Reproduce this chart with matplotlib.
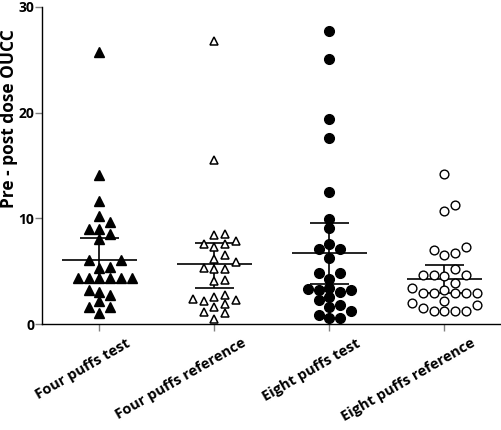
import numpy as np
import matplotlib
matplotlib.use('Agg')
from matplotlib import pyplot as plt
from matplotlib.transforms import ScaledTranslation

plt.rcParams['font.family'] = ['Open Sans', 'DejaVu Sans']
plt.rcParams['font.weight'] = 'bold'

categories = ['Four puffs test', 'Four puffs reference', 'Eight puffs test', 'Eight puffs reference']

four_test = [25.7, 14.1, 11.6, 10.24, 9.7, 8.98, 8.5, 8.98, 8.0, 6.07, 6.07, 5.43, 5.34,
             4.4, 4.4, 4.4, 4.4, 4.4, 4.4, 3.06, 3.2, 2.75, 1.64, 1.64, 2.2, 1.07]
four_ref = [26.8, 15.5, 8.44, 8.53, 7.9, 7.55, 7.33, 7.55, 6.13, 5.9, 6.54, 5.18, 5.34, 5.18,
            4.17, 4.1, 2.37, 2.27, 2.75, 2.53, 1.9, 2.18, 1.58, 1.17, 1.0, 0.44]
eight_test = [27.7, 25.1, 19.4, 17.6, 12.5, 9.95, 9.07, 7.55, 7.08, 7.08, 6.28, 4.8, 4.86, 4.23,
              3.38, 3.2, 3.2, 3.3, 3.06, 2.53, 1.8, 1.64, 2.27, 0.85, 1.26, 0.54, 0.54]
eight_ref = [14.2, 11.3, 10.7, 7.0, 6.54, 6.7, 7.33, 5.18, 4.64, 4.64, 4.58, 4.64, 3.86,
             3.2, 2.9, 2.9, 2.9, 2.9, 2.97, 3.38, 2.18, 2.02, 1.8, 1.49, 1.23, 1.23, 1.23, 1.23]

means = [6.07, 5.66, 6.7, 4.23]
ci_low = [3.9, 3.38, 3.79, 2.9]
ci_high = [8.1, 7.7, 9.55, 5.6]

groups = [four_test, four_ref, eight_test, eight_ref]
styles = [dict(marker='^', ms=6.8, mfc='black', mec='black', mew=1),
          dict(marker='^', ms=5.8, mfc='white', mec='black', mew=1.1),
          dict(marker='o', ms=7, mfc='black', mec='black', mew=1),
          dict(marker='o', ms=6.3, mfc='white', mec='black', mew=1)]

fig = plt.figure(figsize=(5.02, 4.30), dpi=100)
ax = fig.add_axes([42 / 502, 106 / 430, 460 / 502, 317 / 430])
ax.set_xlim(-0.5, 3.5)
ax.set_ylim(0, 30)


def swarm(vals, col_px=10.7, row_px=8.5):
    # beeswarm: stack close values into side by side columns
    ypx = ax.transData.transform(np.column_stack([np.zeros(len(vals)), vals]))[:, 1]
    order = np.argsort(ypx)
    placed = []
    cols = np.zeros(len(vals))
    for i in order:
        for k in [0, 1, -1, 2, -2, 3, -3, 4, -4]:
            if all(not (c == k and abs(y - ypx[i]) < row_px) for c, y in placed):
                break
        placed.append((k, ypx[i]))
        cols[i] = k
    x0 = ax.transData.transform((0, 0))[0]
    x1 = ax.transData.transform((1, 0))[0]
    return cols * col_px / (x1 - x0)


for i, (vals, st) in enumerate(zip(groups, styles)):
    # error bars first, markers over them
    ax.hlines(means[i], i - 0.33, i + 0.33, color='black', lw=1.2, zorder=2)
    ax.hlines([ci_low[i], ci_high[i]], i - 0.17, i + 0.17, color='black', lw=1.2, zorder=2)
    ax.vlines(i, ci_low[i], ci_high[i], color='black', lw=1.2, zorder=2)
    off = swarm(vals)
    ax.plot(i + off, vals, ls='none', zorder=3, **st)

for s in ['top', 'right']:
    ax.spines[s].set_visible(False)
for s in ['left', 'bottom']:
    ax.spines[s].set_linewidth(1.0)

ax.set_yticks([0, 10, 20, 30])
ax.set_xticks(range(4))
ax.set_xticklabels(categories, rotation=30, ha='right', va='center', rotation_mode='anchor')
ax.tick_params(axis='both', color='gray', length=5, width=1)
ax.tick_params(axis='y', labelsize=10, pad=0.5)
ax.tick_params(axis='x', labelsize=10.5, pad=6)
for lab in ax.get_xticklabels():
    lab.set_transform(lab.get_transform() + ScaledTranslation(0.30, -0.03, fig.dpi_scale_trans))

ax.set_ylabel('Pre - post dose OUCC', fontsize=12.5, fontweight='bold', va='center', ha='center')
ax.yaxis.set_label_coords(-0.0717, 0.647)

fig.savefig('out.png', dpi=100)
